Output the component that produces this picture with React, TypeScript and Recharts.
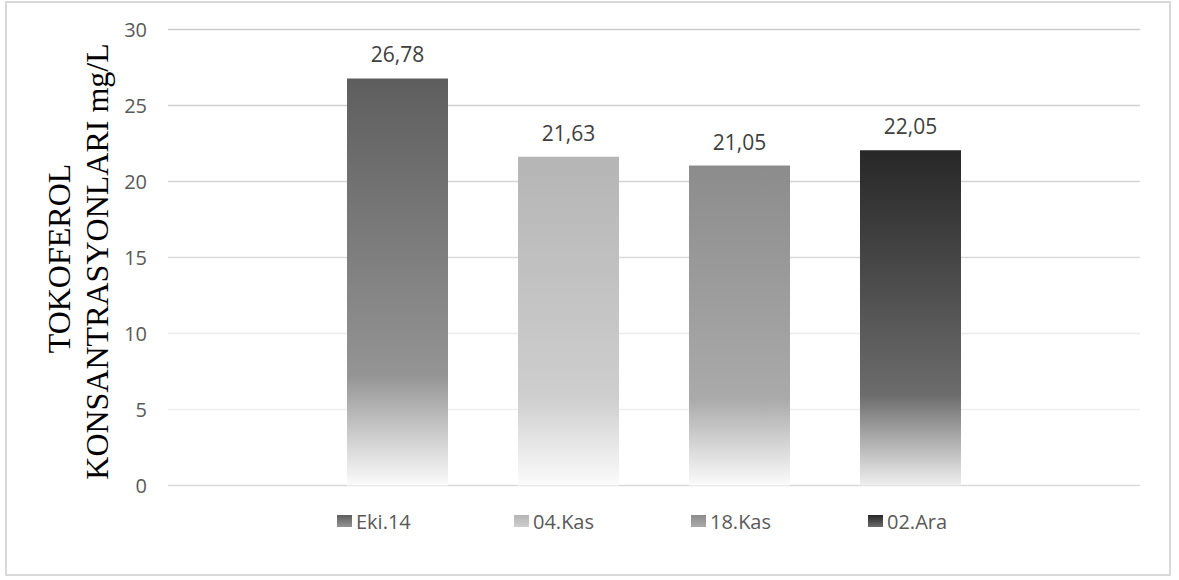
import React from "react";
import {
  BarChart,
  Bar,
  XAxis,
  YAxis,
  CartesianGrid,
  Legend,
  LabelList,
} from "recharts";

// sampling dates and measured tocopherol (mg/L)
const categories = ["Eki.14", "04.Kas", "18.Kas", "02.Ara"];
const values = [26.78, 21.63, 21.05, 22.05];
const yTicks = [0, 5, 10, 15, 20, 25, 30];

const seriesKeys = categories.map((_, i) => `s${i}`);
const row: Record<string, number | string> = { name: "" };
seriesKeys.forEach((k, i) => {
  row[k] = values[i];
});
const data = [row];

// grey gradients, dark at the top and fading out near the axis
const shades = [
  { top: "#5e5e5e", mid: "#949494", bottom: "#fbfbfb" },
  { top: "#b5b5b5", mid: "#cecece", bottom: "#fbfbfb" },
  { top: "#8c8c8c", mid: "#aaaaaa", bottom: "#fbfbfb" },
  { top: "#272727", mid: "#6c6c6c", bottom: "#efefef" },
];

const gridStroke: Record<number, string> = {
  0: "#d9d9d9",
  5: "#efefef",
  10: "#ececec",
  15: "#d9d9d9",
  20: "#d4d4d4",
  25: "#d0d0d0",
  30: "#cccccc",
};

const fmt = (v: any) => Number(v).toFixed(2).replace(".", ",");

const gridLine = (p: any) => {
  let stroke = "#d9d9d9";
  if (p.height) {
    const v = Math.round((30 * (p.y + p.height - p.y1)) / p.height);
    stroke = gridStroke[v] ?? stroke;
  }
  return (
    <line
      key={p.key ?? p.index}
      x1={p.x1}
      x2={p.x2}
      y1={p.y1}
      y2={p.y2}
      stroke={stroke}
      strokeWidth={1.4}
    />
  );
};

const AxisTitle = (props: any) => {
  const vb = props.viewBox || { y: 26.5, height: 456 };
  const cy = vb.y + vb.height / 2 + 1;
  const style = {
    fontFamily: "'Liberation Serif', 'Times New Roman', serif",
    fontSize: 32,
    fill: "#000",
  };
  return (
    <g>
      <text x={63} y={cy} textAnchor="middle" transform={`rotate(-90, 63, ${cy})`} style={style}>
        TOKOFEROL
      </text>
      <text x={101} y={cy + 3} textAnchor="middle" transform={`rotate(-90, 101, ${cy + 3})`} style={style}>
        KONSANTRASYONLARI mg/L
      </text>
    </g>
  );
};

const LegendBox = () => (
  <div style={{ display: "flex", height: 24, alignItems: "center" }}>
    {categories.map((c, i) => (
      <div key={c} style={{ width: 177, display: "flex", alignItems: "center" }}>
        <span
          style={{
            width: 15,
            height: 12,
            marginRight: 4,
            background: `linear-gradient(${shades[i].top}, ${shades[i].mid})`,
          }}
        />
        <span style={{ fontSize: 20, color: "#595959", fontFamily: "'Open Sans', sans-serif" }}>{c}</span>
      </div>
    ))}
  </div>
);

export default function App() {
  return (
    <div
      style={{
        position: "absolute",
        left: 5,
        top: 1,
        width: 1166,
        height: 575,
        boxSizing: "border-box",
        border: "2px solid #d9d9d9",
        background: "#fff",
        fontFamily: "'Open Sans', sans-serif",
      }}
    >
      <BarChart
        width={1162}
        height={571}
        data={data}
        margin={{ top: 26.5, right: 29, bottom: 64.5, left: 0 }}
        barSize={101}
        barGap={70}
      >
        <defs>
          {shades.map((s, i) => (
            <linearGradient key={i} id={`fade${i}`} x1="0" y1="0" x2="0" y2="1">
              <stop offset="0" stopColor={s.top} />
              <stop offset="0.73" stopColor={s.mid} />
              <stop offset="1" stopColor={s.bottom} />
            </linearGradient>
          ))}
        </defs>
        <CartesianGrid vertical={false} horizontal={gridLine} />
        <XAxis dataKey="name" hide />
        <YAxis
          width={161}
          domain={[0, 30]}
          ticks={yTicks}
          axisLine={false}
          tickLine={false}
          tickMargin={15}
          tick={{ fill: "#595959", fontSize: 20, fontFamily: "'Open Sans', sans-serif" }}
          label={{ content: (p: any) => <AxisTitle {...p} /> }}
        />
        <Legend
          content={() => <LegendBox />}
          wrapperStyle={{ top: 506, left: 330, bottom: "auto", width: "auto" }}
        />
        {seriesKeys.map((k, i) => (
          <Bar key={k} dataKey={k} name={categories[i]} fill={`url(#fade${i})`} isAnimationActive={false}>
            <LabelList
              dataKey={k}
              position="top"
              offset={16}
              formatter={fmt}
              fill="#404040"
              fontSize={21}
              fontFamily="'Open Sans', sans-serif"
            />
          </Bar>
        ))}
      </BarChart>
    </div>
  );
}
